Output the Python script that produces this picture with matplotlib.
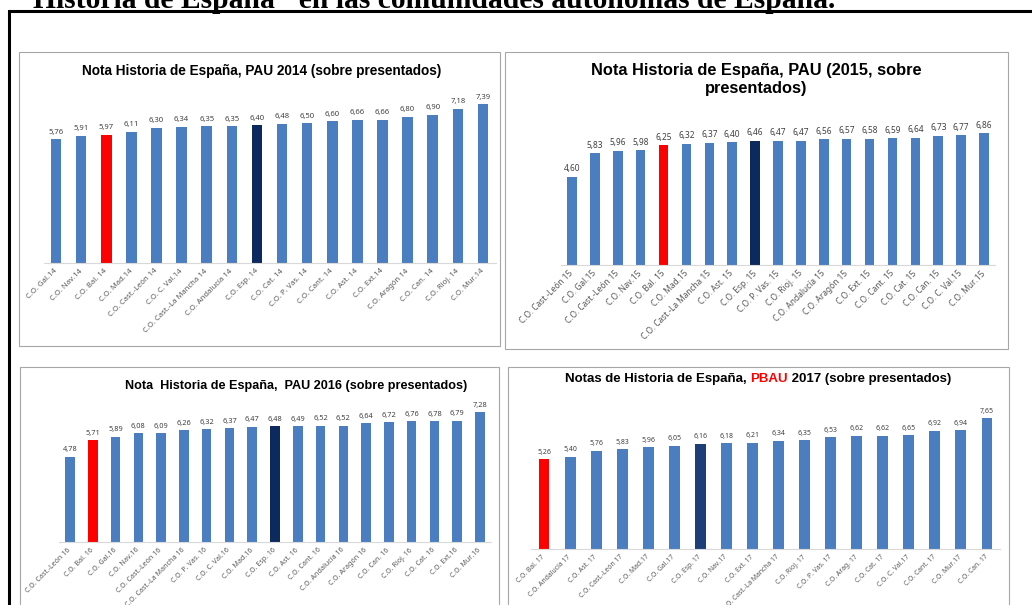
import matplotlib
matplotlib.use("Agg")
import matplotlib.pyplot as plt
from matplotlib.patches import Rectangle

W, H = 1032, 605

# ---------------- data ----------------
labels_2014 = ["C.O. Gal.14", "C.O. Nav.14", "C.O. Bal. 14", "C.O. Mad.14", "C.O. Cast.-León 14",
               "C.O. C. Val.14", "C.O. Cast.-La Mancha 14", "C.O. Andalucía 14", "C.O. Esp. 14",
               "C.O. Cat. 14", "C.O. P. Vas. 14", "C.O. Cant. 14", "C.O. Ast. 14", "C.O. Ext.14",
               "C.O. Aragón 14", "C.O. Can. 14", "C.O. Rioj. 14", "C.O. Mur.14"]
values_2014 = [5.76, 5.91, 5.97, 6.11, 6.30, 6.34, 6.35, 6.35, 6.40, 6.48, 6.50, 6.60, 6.66, 6.66,
               6.80, 6.90, 7.18, 7.39]
red_2014, esp_2014 = 2, 8

labels_2015 = ["C.O. Cast.-León 15", "C.O. Gal.15", "C.O. Cast.-León 15", "C.O. Nav.15", "C.O. Bal. 15",
               "C.O. Mad.15", "C.O. Cast.-La Mancha 15", "C.O. Ast. 15", "C.O. Esp. 15", "C.O. P. Vas. 15",
               "C.O. Rioj. 15", "C.O. Andalucía 15", "C.O. Aragón 15", "C.O. Ext. 15", "C.O. Cant. 15",
               "C.O. Cat. 15", "C.O. Can. 15", "C.O. C. Val.15", "C.O. Mur.15"]
values_2015 = [4.60, 5.83, 5.96, 5.98, 6.25, 6.32, 6.37, 6.40, 6.46, 6.47, 6.47, 6.56, 6.57, 6.58,
               6.59, 6.64, 6.73, 6.77, 6.86]
red_2015, esp_2015 = 4, 8

labels_2016 = ["C.O. Cast.-León 16", "C.O. Bal. 16", "C.O. Gal.16", "C.O. Nav.16", "C.O. Cast.-León 16",
               "C.O. Cast.-La Mancha 16", "C.O. P. Vas. 16", "C.O. C. Val.16", "C.O. Mad.16",
               "C.O. Esp. 16", "C.O. Ast. 16", "C.O. Cant. 16", "C.O. Andalucía 16", "C.O. Aragón 16",
               "C.O. Can. 16", "C.O. Rioj. 16", "C.O. Cat. 16", "C.O. Ext.16", "C.O. Mur.16"]
values_2016 = [4.78, 5.71, 5.89, 6.08, 6.09, 6.26, 6.32, 6.37, 6.47, 6.48, 6.49, 6.52, 6.52, 6.64,
               6.72, 6.76, 6.78, 6.79, 7.28]
red_2016, esp_2016 = 1, 9

labels_2017 = ["C.O. Bal. 17", "C.O. Andalucía 17", "C.O. Ast. 17", "C.O. Cast.-León 17", "C.O. Mad.17",
               "C.O. Gal.17", "C.O. Esp. 17", "C.O. Nav.17", "C.O. Ext. 17", "C.O. Cast.-La Mancha 17",
               "C.O. Rioj. 17", "C.O. P. Vas. 17", "C.O. Arag. 17", "C.O. Cat. 17", "C.O. C. Val.17",
               "C.O. Cant. 17", "C.O. Mur.17", "C.O. Can. 17"]
values_2017 = [5.26, 5.40, 5.76, 5.83, 5.96, 6.05, 6.16, 6.18, 6.21, 6.34, 6.35, 6.53, 6.62, 6.62,
               6.65, 6.92, 6.94, 7.65]
red_2017, esp_2017 = 0, 6

BLUE = "#4A7EC0"
RED = "#FF0000"
NAVY = "#0C2A5E"
NAVY17 = "#1C3F78"
TITLE_FONT = "Liberation Sans"

fig = plt.figure(figsize=(W / 100, H / 100), dpi=100)
fig.patch.set_facecolor("white")
renderer = fig.canvas.get_renderer()


def fx(x):
    return x / W


def fy(y):
    return 1 - y / H


def box(x0, y0, x1, y1, color="#A6A6A6", lw=0.8):
    fig.add_artist(Rectangle((fx(x0), fy(y1)), fx(x1 - x0), (y1 - y0) / H,
                             transform=fig.transFigure, fill=False, edgecolor=color,
                             linewidth=lw, clip_on=False, zorder=0))


def fit_text(x, y, s, target_w, fs, **kw):
    t = fig.text(fx(x), fy(y), s, fontsize=fs, **kw)
    w = t.get_window_extent(renderer).width
    t.set_fontsize(fs * target_w / w)
    return t


def panel(x0, x1, base, ppu, labels, values, red_i, esp_i, navy, lfs, tfs, top=8.2):
    ytop = base - top * ppu
    ax = fig.add_axes([fx(x0), fy(base), fx(x1 - x0), (base - ytop) / H])
    ax.set_facecolor("none")
    colors = [BLUE] * len(values)
    colors[red_i] = RED
    colors[esp_i] = navy
    xs = list(range(len(values)))
    ax.bar(xs, values, width=0.42, color=colors, zorder=2)
    ax.set_xlim(-0.5, len(values) - 0.5)
    ax.set_ylim(0, top)
    for s in ("top", "right", "left"):
        ax.spines[s].set_visible(False)
    ax.spines["bottom"].set_color("#D9D9D9")
    ax.spines["bottom"].set_linewidth(0.8)
    ax.set_yticks([])
    ax.set_xticks(xs)
    ax.set_xticklabels(labels, rotation=45, ha="right", va="center", rotation_mode="anchor",
                       fontsize=tfs, color="#595959", family="Noto Sans")
    ax.tick_params(axis="x", length=0, pad=5)
    for xi, v in zip(xs, values):
        ax.annotate(f"{v:.2f}".replace(".", ","), (xi, v), xytext=(0, 2.5),
                    textcoords="offset points", ha="center", va="bottom",
                    fontsize=lfs, color="#404040", family="Noto Sans")
    return ax


# big outer frame
fig.add_artist(Rectangle((fx(9), fy(640)), fx(1100), (640 - 11) / H, transform=fig.transFigure,
                         fill=False, edgecolor="black", linewidth=2.2, clip_on=False))

# document heading (cut at top)
fit_text(33, 8, "Historia de España\" en las comunidades autónomas de España.", 802, 19,
         family="Liberation Serif", fontweight="bold", va="baseline", ha="left", color="black")

# panel frames
box(19, 52, 500, 346)
box(505, 52, 1008, 349)
box(20, 367, 499, 640)
box(508, 367, 1009, 640)

# panels
panel(43.5, 495.5, 263, 21.5, labels_2014, values_2014, red_2014, esp_2014, NAVY, 5.5, 5.5)
panel(560.5, 995.5, 265, 19.2, labels_2015, values_2015, red_2015, esp_2015, NAVY, 6.0, 6.0)
panel(58.6, 491.4, 542, 17.85, labels_2016, values_2016, red_2016, esp_2016, NAVY, 5.3, 5.1)
panel(531, 1000, 549, 17.1, labels_2017, values_2017, red_2017, esp_2017, NAVY17, 5.0, 4.9)

# titles
tk = dict(family=TITLE_FONT, fontweight="bold", ha="center", va="center", color="black")
fit_text(262, 71, "Nota Historia de España, PAU 2014 (sobre presentados)", 361, 8.5, **tk)
t1 = fit_text(756, 71, "Nota Historia de España, PAU (2015, sobre", 332, 10, **tk)
fig.text(fx(756), fy(89), "presentados)", fontsize=t1.get_fontsize(), **tk)
fit_text(296, 386, "Nota  Historia de España,  PAU 2016 (sobre presentados)", 342, 7.7, **tk)

# 2017 title with red PBAU
parts = [("Notas de Historia de España, ", "black"), ("PBAU", RED), (" 2017 (sobre presentados)", "black")]
full = "".join(p for p, _ in parts)
tk4 = dict(family=TITLE_FONT, fontweight="bold", va="center", color="black")
probe = fig.text(0, 0, full, fontsize=8.3, **tk4)
w = probe.get_window_extent(renderer).width
fs4 = 8.3 * 388 / w
probe.set_fontsize(fs4)
w = probe.get_window_extent(renderer).width
probe.remove()
bar = fig.text(0, 0, "|", fontsize=fs4, **tk4)
bar_w = bar.get_window_extent(renderer).width
bar.remove()
x_start = 758 - w / 2
xcur = x_start
for i, (s, c) in enumerate(parts):
    fig.text(fx(xcur), fy(379), s, fontsize=fs4, ha="left", **{**tk4, "color": c})
    pre = "".join(p for p, _ in parts[: i + 1])
    m = fig.text(0, 0, pre + "|", fontsize=fs4, **tk4)
    adv = m.get_window_extent(renderer).width - bar_w
    m.remove()
    xcur = x_start + adv

fig.savefig("out.png", dpi=100, facecolor="white")
